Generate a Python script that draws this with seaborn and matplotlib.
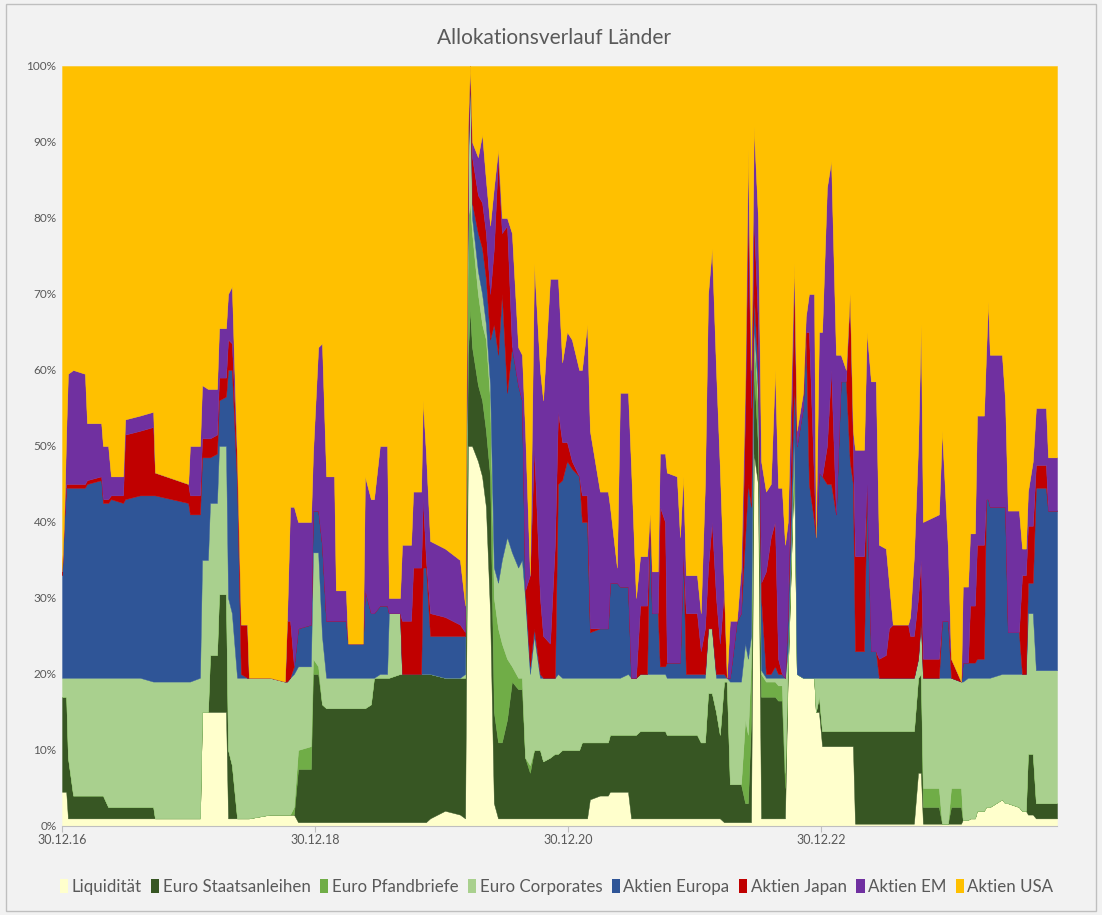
import pandas as pd
import matplotlib
matplotlib.use("Agg")
import matplotlib.pyplot as plt
from matplotlib.patches import Patch, Rectangle
from matplotlib.ticker import PercentFormatter
import seaborn as sns

# Tage seit 30.12.2016 (Stützstellen)
tage = [0, 6, 12, 17, 32, 66, 72, 113, 118, 133, 141, 176, 182, 225, 263, 268, 364, 369, 398, 404,
        421, 427, 447, 453, 473, 479, 490, 505, 516, 534, 539, 600, 643, 649, 658, 669, 681, 718, 724, 739,
        750, 762, 785, 790, 819, 825, 868, 874, 891, 900, 917, 938, 943, 975, 981, 1007, 1013, 1036, 1041, 1050,
        1062, 1105, 1148, 1163, 1171, 1177, 1183, 1200, 1212, 1223, 1235, 1246, 1258, 1269, 1284, 1298, 1316, 1327, 1336, 1350,
        1362, 1379, 1388, 1408, 1422, 1431, 1443, 1457, 1471, 1492, 1500, 1515, 1523, 1552, 1575, 1581, 1601, 1610, 1633, 1642,
        1656, 1668, 1688, 1696, 1702, 1719, 1725, 1740, 1745, 1774, 1783, 1792, 1800, 1832, 1843, 1855, 1864, 1875, 1887, 1898,
        1910, 1918, 1927, 1947, 1959, 1971, 1979, 1988, 1996, 2008, 2017, 2031, 2045, 2057, 2066, 2077, 2086, 2094, 2112, 2120,
        2138, 2146, 2155, 2170, 2175, 2184, 2193, 2207, 2219, 2233, 2247, 2262, 2273, 2282, 2288, 2314, 2322, 2334, 2348, 2357,
        2377, 2386, 2397, 2441, 2447, 2458, 2470, 2478, 2484, 2530, 2539, 2556, 2565, 2594, 2599, 2614, 2620, 2634, 2640, 2660,
        2666, 2672, 2677, 2712, 2721, 2729, 2761, 2770, 2781, 2787, 2801, 2810, 2839, 2845, 2871]

liquiditaet = [4.5, 4.5, 4.5, 1, 1, 1, 1, 1, 1, 1, 1, 1, 1, 1, 1, 1, 1, 1, 1, 15,
               15, 15, 15, 15, 15, 1, 1, 1, 1, 1, 1, 1.5, 1.5, 1.5, 1.5, 1.5, 0.5, 0.5, 0.5, 0.5,
               0.5, 0.5, 0.5, 0.5, 0.5, 0.5, 0.5, 0.5, 0.5, 0.5, 0.5, 0.5, 0.5, 0.5, 0.5, 0.5, 0.5, 0.5, 0.5, 0.5,
               1, 2, 1.5, 1, 50, 50, 50, 48, 46, 42, 28, 3, 1, 1, 1, 1, 1, 1, 1, 1,
               1, 1, 1, 1, 1, 1, 1, 1, 1, 1, 1, 1, 3.5, 4, 4, 4.5, 4.5, 4.5, 4.5, 1,
               1, 1, 1, 1, 1, 1, 1, 1, 1, 1, 1, 1, 1, 1, 1, 1, 1, 1, 1, 1,
               0.5, 0.5, 0.5, 0.5, 0.5, 0.5, 0.5, 0.5, 49, 45, 1, 1, 1, 1, 1, 1, 1, 20, 48, 20,
               19.5, 19.5, 19.5, 19.5, 15, 15, 10.5, 10.5, 10.5, 10.5, 10.5, 10.5, 10.5, 10.5, 0.3, 0.3, 0.3, 0.3, 0.3, 0.3,
               0.3, 0.3, 0.3, 0.3, 0.3, 0.3, 7, 7, 0.3, 0.3, 0.3, 0.3, 0.3, 0.3, 0.8, 0.8, 1, 1, 2, 2,
               2.5, 2.5, 2.5, 3.5, 3, 3, 2.5, 2, 2, 1.5, 1.5, 1, 1, 1, 1]

staatsanleihen = [12.5, 12.5, 12.5, 8, 3, 3, 3, 3, 3, 1.5, 1.5, 1.5, 1.5, 1.5, 1.5, 0, 0, 0, 0, 0,
                  0, 7.5, 7.5, 15.5, 15.5, 9, 7, 0, 0, 0, 0, 0, 0, 0, 0, 0, 7, 7, 19.5, 19.5,
                  15.5, 15, 15, 15, 15, 15, 15, 15, 15.5, 19, 19, 19, 19, 19.5, 19.5, 19.5, 19.5, 19.5, 19.5, 19.5,
                  19, 17.5, 18, 18.5, 12, 18, 13, 10, 10, 10, 18, 12, 10, 10, 13, 18, 17, 17, 8, 6,
                  9, 9, 7.5, 8, 8.5, 8.5, 9, 9, 9, 9, 10, 10, 7.5, 7, 7, 7.5, 7.5, 7.5, 7.5, 11,
                  11, 11.5, 11.5, 11.5, 11.5, 11.5, 11.5, 11.5, 11, 11, 11, 11, 11, 11, 10, 10, 16.5, 16.5, 14, 11,
                  18.5, 18.5, 5, 5, 5, 2.5, 2.5, 13.5, 11, 5, 16, 16, 16, 16, 15.5, 15.5, 4, 0, 0, 0,
                  0, 0, 0, 0, 0, 2, 2, 2, 2, 2, 2, 2, 2, 2, 12.2, 12.2, 12.2, 12.2, 12.2, 12.2,
                  12.2, 12.2, 12.2, 12.2, 12.2, 12.2, 12.5, 13, 2.2, 2.2, 0, 0, 2.2, 2.2, 0, 0, 0, 0, 0, 0,
                  0, 0, 0, 0, 0, 0, 0, 0, 0, 8, 8, 2, 2, 2, 2]

pfandbriefe = [0, 0, 0, 0, 0, 0, 0, 0, 0, 0, 0, 0, 0, 0, 0, 0, 0, 0, 0, 0,
               0, 0, 0, 0, 0, 0, 0, 0, 0, 0, 0, 0, 0, 0, 0, 1, 2.5, 3, 2, 1,
               0, 0, 0, 0, 0, 0, 0, 0, 0, 0, 0, 0, 0, 0, 0, 0, 0, 0, 0, 0,
               0, 0, 0, 0, 18, 14, 15, 12, 10, 12, 10, 15, 15, 13, 8, 2, 1.5, 1.5, 0, 1,
               0, 0, 0, 0, 0, 0, 0, 0, 0, 0, 0, 0, 0, 0, 0, 0, 0, 0, 0, 0,
               0, 0, 0, 0, 0, 0, 0, 0, 0, 0, 0, 0, 0, 0, 0, 0, 0, 0, 0, 0,
               0, 0, 0, 0, 0, 11, 9, 8, 5, 5, 3, 2, 2, 2, 2, 2, 2, 2, 2, 0,
               0, 0, 0, 0, 0, 0, 0, 0, 0, 0, 0, 0, 0, 0, 0, 0, 0, 0, 0, 0,
               0, 0, 0, 0, 0, 0, 0, 0, 2.5, 2.5, 0, 0, 2.5, 2.5, 0, 0, 0, 0, 0, 0,
               0, 0, 0, 0, 0, 0, 0, 0, 0, 0, 0, 0, 0, 0, 0]

corporates = [2.5, 2.5, 2.5, 10.5, 15.5, 15.5, 15.5, 15.5, 15.5, 17, 17, 17, 17, 17, 16.5, 18, 18, 18, 18.5, 20,
              20, 20, 20, 19.5, 19.5, 20, 20, 18.5, 18.5, 18.5, 18.5, 18, 17.5, 17.5, 18, 17.5, 11, 10.5, 14, 15,
              9, 4, 4, 4, 4, 4, 4, 4, 3.5, 0, 0.5, 0.5, 8.5, 8, 0, 0, 0, 0, 0, 0,
              0, 0, 0, 0.5, 5, 18, 2, 3, 4, 2, 2, 4, 6, 11, 16, 15, 14.5, 15.5, 21, 12,
              15, 9.5, 11, 10.5, 10, 10.5, 9.5, 9.5, 9.5, 9.5, 8.5, 8.5, 8.5, 8.5, 8.5, 7.5, 7.5, 7.5, 8, 7.5,
              7.5, 7.5, 7.5, 7.5, 7.5, 7.5, 7.5, 7.5, 7.5, 7.5, 7.5, 7.5, 7.5, 7.5, 8.5, 8.5, 8.5, 8.5, 4.5, 7.5,
              0.5, 0.5, 13.5, 13.5, 13.5, 10, 10, 3, 1, 2, 0.5, 0.5, 0.5, 0.5, 1, 1, 12.5, 1, 2, 0,
              0, 0, 0, 0, 4.5, 2.5, 7, 7, 7, 7, 7, 7, 7, 7, 7, 7, 7, 7, 7, 7,
              7, 7, 7, 7, 7, 7, 2.5, 7, 14.5, 14.5, 19.2, 19.2, 14.5, 14, 18.2, 18.7, 18.5, 18.5, 17.5, 17.5,
              17, 17, 17, 16.5, 17, 17, 17.5, 18, 18, 18.5, 18.5, 17.5, 17.5, 17.5, 17.5]

aktien_europa = [13.5, 20.5, 25, 25, 25, 25, 25.5, 26, 23, 23, 23.5, 23, 23.5, 24, 24.5, 24.5, 23.5, 22, 21.5, 13.5,
                 13.5, 6, 6.5, 6, 6.5, 30, 32, 25.5, 0.5, 0, 0, 0, 0, 0, 0, 1, 5, 5.5, 5.5, 5.5,
                 12, 7.5, 7.5, 7.5, 7.5, 4.5, 4.5, 11.5, 8.5, 8.5, 9, 9, 0, 0, 0, 0, 0, 0, 14, 14,
                 5, 5.5, 5.5, 5, 2, 0, 2, 5, 6, 6, 6, 32, 30, 35, 19, 27, 24, 21, 1, 1,
                 1, 0.5, 0, 0, 0, 25, 26, 28.5, 27.5, 26.5, 20.5, 20.5, 6, 6.5, 6.5, 12.5, 12.5, 12, 11.5, 0,
                 0, 0, 0, 21, 8, 8, 1, 1, 2, 2, 2, 16.5, 0.5, 0.5, 0.5, 0.5, 0, 0, 0.5, 0.5,
                 0.5, 0, 0.5, 8, 9, 14, 23, 17, 4, 3, 9.5, 0.5, 0.5, 1.5, 0.5, 0.5, 0, 5, 6, 30,
                 35.5, 45.5, 25.5, 20.5, 18.5, 27, 26.5, 25.5, 25.5, 21.5, 39, 39, 28.5, 25.5, 3.5, 3.5, 25.5, 3.5, 3.5, 0,
                 0, 0, 0, 0, 0, 0, 0, 0, 0, 0, 7.5, 7.5, 0, 0, 2.5, 2, 2, 2, 2.5, 2.5,
                 23.5, 23.5, 22.5, 22, 22, 5.5, 5.5, 0, 0, 4, 4, 24, 24, 21, 21]

aktien_japan = [0.5, 0.5, 0.5, 0.5, 0.5, 0.5, 0.5, 0.5, 0.5, 0.5, 0.5, 1, 8.5, 8.5, 9, 3, 2.5, 2.5, 2.5, 2.5,
                2.5, 2.5, 2.5, 3, 2.5, 4, 3.5, 3, 6.5, 7, 0, 0, 0, 8, 7.5, 0, 0, 0, 0, 0,
                0, 0, 0, 0, 0, 0, 0, 0, 0, 0, 0, 0, 0, 0, 7, 7, 14, 14, 9, 1,
                3, 2.5, 1.5, 0.5, 2, 0, 6, 5, 6, 6, 6, 10, 26, 8, 22, 0, 0, 0, 0, 12,
                24, 10, 5.5, 4.5, 17.5, 9.5, 5, 2.5, 1, 0, 3.5, 3.5, 0.5, 0, 0, 0, 0, 0, 0, 0,
                0, 9, 9, 0, 0, 0, 21, 19, 0, 0, 0, 0, 8, 8, 3, 6, 8, 14, 10, 4,
                11, 0, 0, 0, 0, 17, 36, 13, 10, 6, 2, 13.5, 18, 19, 2, 0, 0, 0, 14, 0,
                0, 0, 20, 5, 0, 0, 0, 5, 15, 0, 0, 0, 22, 5, 12.5, 12.5, 0, 0, 0, 2.5,
                3, 6.5, 7, 7, 5.5, 5.5, 8, 8, 2.5, 2.5, 0, 0, 2.5, 0, 0, 0, 7.5, 7.5, 15, 15,
                0, 0, 0, 0, 0, 0, 0, 13, 13, 7.5, 7.5, 3, 3, 0, 0]

aktien_em = [0, 0, 7, 14.5, 15, 14.5, 7.5, 7, 7, 7, 2.5, 2.5, 2, 2, 2, 0, 0, 6.5, 6.5, 7,
             6.5, 6.5, 6, 6.5, 6.5, 6, 7.5, 0, 0, 0, 0, 0, 0, 0, 15, 21, 14, 13.5, 7.5, 21.5,
             26.5, 19, 19, 4, 4, 0, 0, 15, 15, 15, 21, 21, 2, 2, 10, 10, 10, 10, 13, 14,
             9.5, 9, 8.5, 3.5, 3, 0, 2, 5, 9, 7, 9, 8, 1, 2, 1, 15, 5, 6, 21, 0,
             24, 30, 31, 48, 35, 17.5, 10.5, 14.5, 16, 14, 16.5, 22.5, 26, 18, 18, 10, 2, 25.5, 25.5, 27.5,
             10.5, 6.5, 6.5, 0, 5.5, 5.5, 7, 9, 25, 24.5, 16.5, 10, 5, 5, 5, 19, 36, 36, 30, 23,
             0, 0, 7.5, 0, 6, 4, 8, 5, 12, 14, 16, 10.5, 7, 20, 22.5, 24.5, 17.5, 12, 2, 2,
             2, 2, 5, 25, 0, 18.5, 19, 34, 27.5, 21, 3.5, 1.5, 0, 2, 14, 14, 20, 35.5, 35.5, 15,
             14, 6, 0, 0, 2.5, 10.5, 20, 31, 18, 19, 25, 9.5, 0, 0, 10, 10, 9.5, 9.5, 17, 17,
             19, 26, 20, 20, 14, 16, 16, 3.5, 3.5, 4.5, 8.5, 7.5, 7.5, 7, 7]

# 100%-Stapel: Aktien USA füllt jeweils bis 100 %
aktien_usa = [100 - sum(v) for v in zip(liquiditaet, staatsanleihen, pfandbriefe, corporates,
                                        aktien_europa, aktien_japan, aktien_em)]

namen = ["Liquidität", "Euro Staatsanleihen", "Euro Pfandbriefe", "Euro Corporates",
         "Aktien Europa", "Aktien Japan", "Aktien EM", "Aktien USA"]
farben = ["#FFFFCC", "#375623", "#70AD47", "#A9D08E", "#2F5597", "#C00000", "#7030A0", "#FFC000"]

start = pd.Timestamp("2016-12-30")
df = pd.DataFrame({
    "Datum": start + pd.to_timedelta(tage, unit="D"),
    namen[0]: liquiditaet, namen[1]: staatsanleihen, namen[2]: pfandbriefe, namen[3]: corporates,
    namen[4]: aktien_europa, namen[5]: aktien_japan, namen[6]: aktien_em, namen[7]: aktien_usa,
})

sns.set_theme(style="white")
plt.rcParams["font.family"] = ["Lato", "DejaVu Sans"]
textfarbe = "#595959"

fig = plt.figure(figsize=(11.02, 9.15), dpi=100, facecolor="#F2F2F2")
ax = fig.add_axes([0.0563, 0.0973, 0.9029, 0.8306])
ax.set_facecolor("#F2F2F2")

ax.stackplot(df["Datum"], *[df[n] for n in namen], colors=farben,
             edgecolor="face", linewidth=0.3)

ax.set_xlim(df["Datum"].iloc[0], df["Datum"].iloc[-1])
ax.set_ylim(0, 100)
ax.set_yticks(range(0, 101, 10))
ax.yaxis.set_major_formatter(PercentFormatter(decimals=0))
ticks = pd.to_datetime(["2016-12-30", "2018-12-30", "2020-12-30", "2022-12-30"])
ax.set_xticks(ticks)
ax.set_xticklabels([t.strftime("%d.%m.%y") for t in ticks])
ax.tick_params(axis="y", labelsize=8.5, labelcolor=textfarbe, length=0, pad=4)
ax.tick_params(axis="x", labelsize=9, labelcolor=textfarbe, length=4, width=0.8,
               color="#BFBFBF", direction="out", bottom=True, pad=2)
for s in ["top", "right", "left"]:
    ax.spines[s].set_visible(False)
ax.spines["bottom"].set_color("#BFBFBF")
ax.spines["bottom"].set_linewidth(0.8)

fig.text(0.503, 0.958, "Allokationsverlauf Länder", ha="center", va="center",
         fontsize=15, color=textfarbe)

handles = [Patch(facecolor=c, edgecolor="none") for c in farben]
fig.legend(handles, namen, loc="center", bbox_to_anchor=(0.505, 0.031), ncol=8,
           frameon=False, fontsize=12.2, labelcolor=textfarbe, handlelength=0.5,
           handleheight=0.9, handletextpad=0.2, columnspacing=0.55)

fig.patches.append(Rectangle((0.005, 0.004), 0.99, 0.992, transform=fig.transFigure,
                             fill=False, edgecolor="#BFBFBF", linewidth=1))

fig.savefig("out.png", dpi=100, facecolor=fig.get_facecolor())
